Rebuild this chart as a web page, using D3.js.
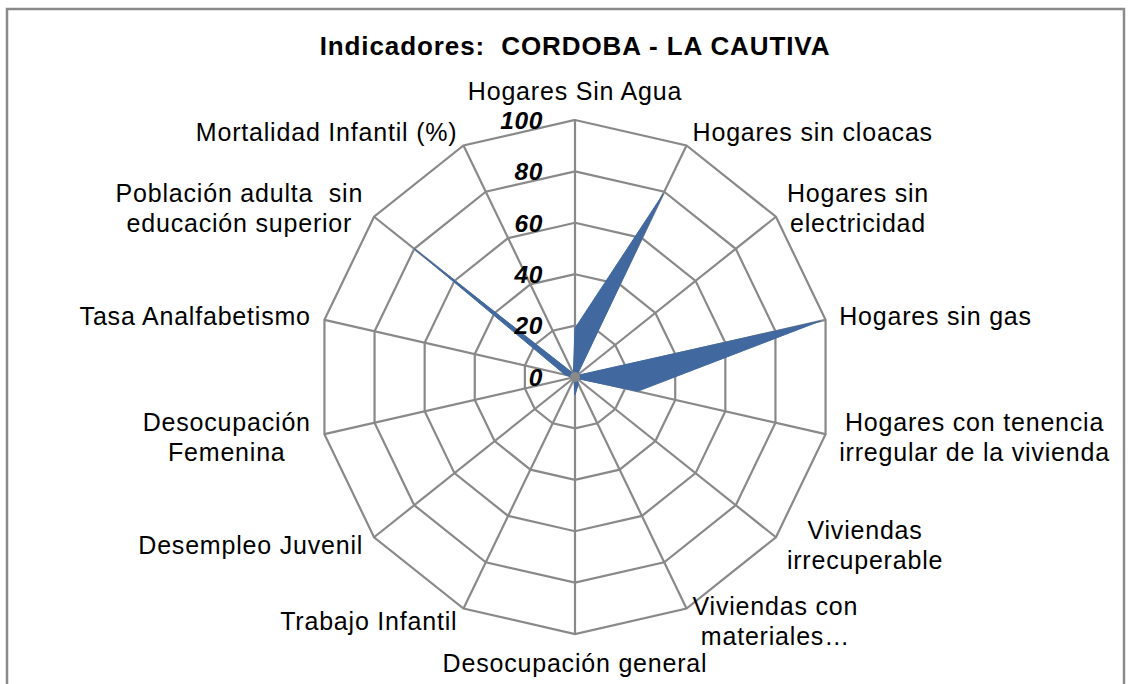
<!DOCTYPE html>
<html>
<head>
<meta charset="utf-8">
<script src="https://cdn.jsdelivr.net/npm/d3@7"></script>
<style>
  body { margin: 0; background: #fff; }
  text { font-family: "Liberation Sans", Arial, sans-serif; white-space: pre; }
</style>
</head>
<body>
<script>
// indicators, clockwise from the top
var categories = [
  "Hogares Sin Agua",
  "Hogares sin cloacas",
  "Hogares sin\nelectricidad",
  "Hogares sin gas",
  "Hogares con tenencia\nirregular de la vivienda",
  "Viviendas\nirrecuperable",
  "Viviendas con\nmateriales…",
  "Desocupación general",
  "Trabajo Infantil",
  "Desempleo Juvenil",
  "Desocupación\nFemenina",
  "Tasa Analfabetismo",
  "Población adulta  sin\neducación superior",
  "Mortalidad Infantil (%)"
];
var values = [19, 79, 1, 98, 25, 1, 3, 7, 1, 1, 1, 4, 80, 1.5];
var ticks = [0, 20, 40, 60, 80, 100];
var title = "Indicadores:  CORDOBA - LA CAUTIVA";

var W = 1132, H = 684;
var cx = 575, cy = 377, R = 257;

var svg = d3.select("body").append("svg")
    .attr("width", W)
    .attr("height", H);

// chart frame
svg.append("rect")
    .attr("x", 7).attr("y", 9)
    .attr("width", 1117).attr("height", 700)
    .attr("fill", "none")
    .attr("stroke", "#8a8a8a")
    .attr("stroke-width", 2.5);

svg.append("text")
    .attr("x", cx)
    .attr("y", 55)
    .attr("text-anchor", "middle")
    .style("font-size", "26px")
    .style("font-weight", "bold")
    .style("letter-spacing", "0.9px")
    .text(title);

var r = d3.scaleLinear().domain([0, 100]).range([0, R]);
var angle = d3.scaleLinear().domain([0, categories.length]).range([0, 2 * Math.PI]);

var g = svg.append("g").attr("transform", "translate(" + cx + "," + cy + ")");

function pt(i, v) {
  var a = angle(i);
  return [r(v) * Math.sin(a), -r(v) * Math.cos(a)];
}

var idx = d3.range(categories.length);

// grid rings
g.selectAll(".ring")
    .data(ticks.slice(1))
    .enter().append("path")
    .attr("class", "ring")
    .attr("d", function(t) {
      return d3.line()(idx.map(function(i) { return pt(i, t); })) + "Z";
    })
    .attr("fill", "none")
    .attr("stroke", "#898989")
    .attr("stroke-width", 2.2);

// spokes
g.selectAll(".spoke")
    .data(idx)
    .enter().append("line")
    .attr("class", "spoke")
    .attr("x1", 0).attr("y1", 0)
    .attr("x2", function(i) { return pt(i, 100)[0]; })
    .attr("y2", function(i) { return pt(i, 100)[1]; })
    .attr("stroke", "#898989")
    .attr("stroke-width", 2.2);

// series area, drawn over the grid
var radial = d3.lineRadial()
    .angle(function(d, i) { return angle(i); })
    .radius(function(d) { return r(d); })
    .curve(d3.curveLinearClosed);

g.append("path")
    .datum(values)
    .attr("d", radial)
    .attr("fill", "#41699f")
    .attr("stroke", "#41699f")
    .attr("stroke-width", 1);

// gray hub where the spokes meet
g.append("circle").attr("r", 5).attr("fill", "#898989");

// value axis labels
g.selectAll(".tick")
    .data(ticks)
    .enter().append("text")
    .attr("class", "tick")
    .attr("x", -32)
    .attr("y", function(t) { return -r(t); })
    .attr("dy", "0.36em")
    .attr("text-anchor", "end")
    .style("font-size", "24.5px")
    .style("font-weight", "bold")
    .style("font-style", "italic")
    .style("letter-spacing", "0.6px")
    .text(function(t) { return t; });

// category labels
var lineH = 30, gap = 14;
categories.forEach(function(c, i) {
  var a = angle(i), s = Math.sin(a), co = Math.cos(a);
  var px = (R + gap) * s, py = -(R + gap) * co;
  var lines = c.split("\n");
  var t = g.append("text")
      .attr("text-anchor", "middle")
      .style("font-size", "25px")
      .style("letter-spacing", "0.8px");
  lines.forEach(function(l) {
    t.append("tspan").attr("x", 0).text(l);
  });
  var bw = t.node().getBBox().width;
  var bh = lines.length * lineH;
  var mx;
  if (s > 0.15) mx = px + bw / 2;
  else if (s < -0.15) mx = px - bw / 2;
  else mx = px;
  var top;
  if (Math.abs(s) <= 0.15) top = py - bh / 2 - co * bh / 2;
  else top = py - bh / 2;
  t.selectAll("tspan")
      .attr("x", mx)
      .attr("y", function(d, k) { return top + k * lineH + lineH / 2 + 8.5; });
});
</script>
</body>
</html>
